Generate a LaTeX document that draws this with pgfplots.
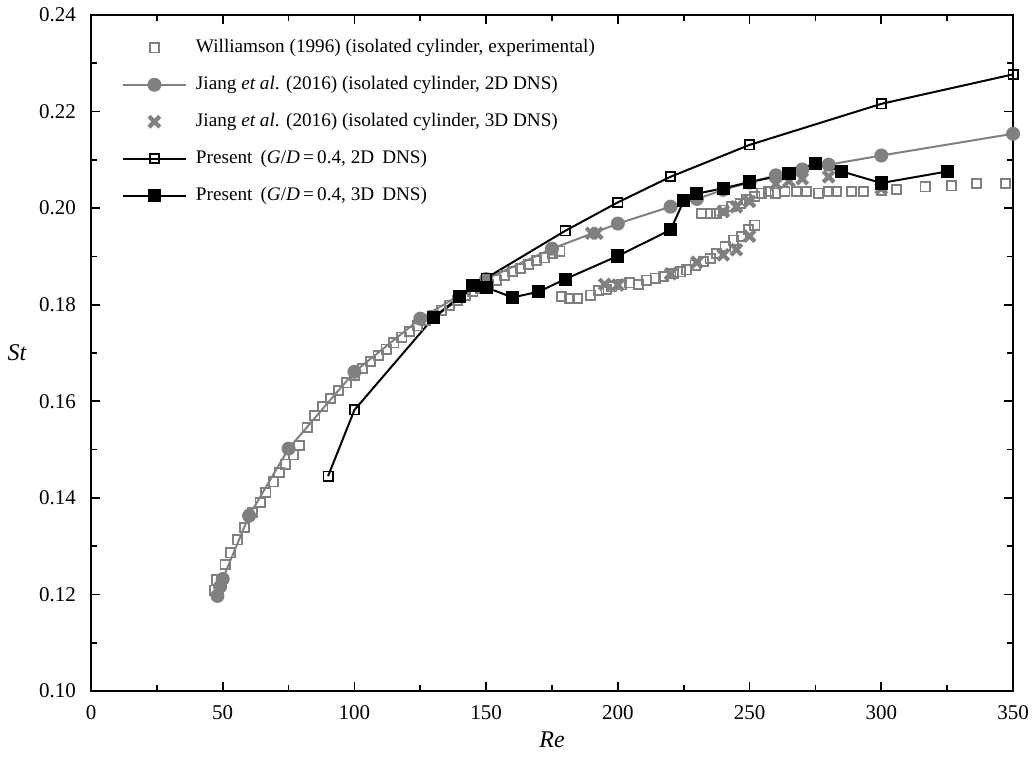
\documentclass[border=0pt]{standalone}
\usepackage{fontspec}
\setmainfont{Liberation Serif}
\usepackage{pgfplots}
\usepackage{pgfplotstable}
\pgfplotsset{compat=1.18}
\definecolor{grayc}{RGB}{128,128,128}

\pgfplotstableread{
Re St
46.8 0.1209
47.8 0.1230
50.9 0.1262
53.0 0.1286
55.6 0.1313
58.2 0.1339
61.2 0.1369
64.2 0.1391
66.4 0.1411
69.2 0.1433
71.4 0.1453
73.9 0.1470
76.8 0.1489
79.0 0.1509
82 0.1546
85 0.1570
88 0.1589
91 0.1606
94 0.1622
97 0.1638
100 0.1653
103 0.1668
106 0.1682
109 0.1695
112 0.1708
115 0.1721
118 0.1733
121 0.1745
124 0.1756
127 0.1767
130 0.1778
133 0.1789
136 0.1799
139 0.1809
142 0.1819
145 0.1828
148 0.1833
151 0.1842
154 0.1851
157 0.1860
160 0.1869
163 0.1875
166 0.1883
169 0.1891
172 0.1897
175 0.1906
178 0.1911
178.5 0.1817
181.5 0.1813
184.5 0.1813
189.5 0.1820
192.8 0.1830
195.5 0.1832
197.7 0.1837
201.4 0.1841
204.6 0.1845
207.8 0.1842
211 0.1851
214.1 0.1855
217.3 0.1858
221 0.1865
223.6 0.1868
226.1 0.1872
229.3 0.1882
232.4 0.1889
235 0.1896
237.5 0.1906
240.7 0.1920
243.8 0.1934
247 0.1941
249.5 0.1955
252 0.1965
231.8 0.1989
235 0.1989
237.5 0.1989
240 0.1996
243.2 0.2003
246.4 0.2010
248.9 0.2017
252 0.2024
254.6 0.2031
257.1 0.2034
259.7 0.2031
263.4 0.2034
267.9 0.2034
271.7 0.2034
276.1 0.2031
279.9 0.2034
283.1 0.2034
288.8 0.2034
293.2 0.2034
300 0.2036
305.8 0.2039
316.6 0.2044
326.7 0.2046
336.2 0.2051
347.2 0.2051
}\williamson

\pgfplotstableread{
Re St
48 0.1197
49 0.1216
50 0.1232
60 0.1363
75 0.1502
100 0.1661
125 0.1771
150 0.1853
175 0.1916
200 0.1968
220 0.2003
230 0.2019
240 0.2038
250 0.2053
260 0.2068
270 0.2080
280 0.2090
300 0.2109
350 0.2154
}\jiangtwo

\pgfplotstableread{
Re St
190 0.1948
192 0.1948
195 0.1842
200 0.1841
220 0.1864
230 0.1888
240 0.1903
240 0.1993
245 0.1914
245 0.2003
250 0.1942
250 0.2014
260 0.2050
265 0.2056
270 0.2061
280 0.2065
300 0.2041
}\jiangthree

\pgfplotstableread{
Re St
90 0.1445
100 0.1582
130 0.1773
150 0.1855
180 0.1953
200 0.2012
220 0.2065
250 0.2131
300 0.2216
350 0.2277
}\presenttwo

\pgfplotstableread{
Re St
130 0.1773
140 0.1817
145 0.1840
150 0.1836
160 0.1815
170 0.1827
180 0.1853
200 0.1901
220 0.1955
225 0.2015
230 0.2030
240 0.2041
250 0.2054
265 0.2071
275 0.2093
285 0.2076
300 0.2052
325 0.2076
}\presentthree

\begin{document}
\begin{tikzpicture}
\path[use as bounding box] (-45.5pt,-34.5pt) rectangle (470.5pt,345.5pt);
\begin{axis}[
  scale only axis, width=461pt, height=338pt,
  xmin=0, xmax=350, ymin=0.10, ymax=0.24,
  xtick={0,50,100,150,200,250,300,350}, minor x tick num=1,
  ytick={0.10,0.12,0.14,0.16,0.18,0.20,0.22,0.24}, minor y tick num=1,
  /pgf/number format/assume math mode=true,
  tick label style={font=\fontsize{10.5}{12}\selectfont},
  yticklabel style={xshift=-4pt, /pgf/number format/.cd, fixed, fixed zerofill, precision=2},
  xticklabel style={yshift=-3.5pt},
  tick align=inside, major tick length=4.5pt, minor tick length=3pt,
  axis line style={line width=1pt},
  every tick/.style={black, line width=0.8pt},
  xlabel={\textit{Re}}, ylabel={\textit{St}},
  xlabel style={font=\fontsize{12}{14}\selectfont, at={(axis description cs:0.5,-0.0725)}, anchor=center},
  ylabel style={font=\fontsize{12}{14}\selectfont, rotate=-90, at={(axis description cs:-0.080,0.5)}, anchor=center},
  legend style={draw=none, fill=none, at={(axis description cs:0.033,0.970)}, anchor=north west,
    font=\fontsize{9.6}{11.5}\selectfont, row sep=6.3pt, column sep=2.5pt, inner sep=0pt},
  legend cell align=left,
  legend image code/.code={\draw[mark repeat=2,mark phase=2] plot coordinates {(0cm,0cm) (0.555cm,0cm) (1.11cm,0cm)};},
]
\addplot[only marks, mark=square, mark size=2.3pt, draw=grayc, mark options={line width=0.9pt}] table {\williamson};
\addlegendentry{Williamson (1996) (isolated cylinder, experimental)}
\addplot[grayc, line width=1pt, mark=*, mark size=3pt, mark options={fill=grayc, draw=grayc}] table {\jiangtwo};
\addlegendentry{Jiang \textit{et al}. (2016) (isolated cylinder, 2D DNS)}
\addplot[only marks, mark=x, mark size=3.8pt, draw=grayc, mark options={line width=2.1pt}] table {\jiangthree};
\addlegendentry{Jiang \textit{et al}. (2016) (isolated cylinder, 3D DNS)}
\addplot[black, line width=1pt, mark=square, mark size=2.3pt, mark options={line width=0.9pt}] table {\presenttwo};
\addlegendentry{Present\, (\textit{G}/\textit{D}\,=\,0.4, 2D\, DNS)}
\addplot[black, line width=1pt, mark=square*, mark size=2.8pt, mark options={fill=black}] table {\presentthree};
\addlegendentry{Present\, (\textit{G}/\textit{D}\,=\,0.4, 3D\, DNS)}
\end{axis}
\end{tikzpicture}
\end{document}
